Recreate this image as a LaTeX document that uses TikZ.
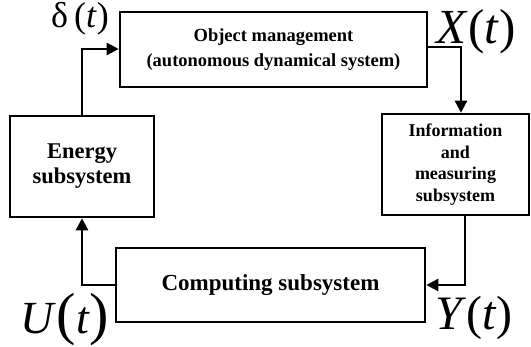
\documentclass[tikz,border=0pt]{standalone}
\usepackage{fontspec}
\setmainfont{Liberation Serif}
\usetikzlibrary{arrows.meta}
\tikzset{
  blockbox/.style={draw, line width=2.6pt, inner sep=0pt, align=center, font=\bfseries},
  flow/.style={line width=2.6pt, -{Triangle[length=12pt,width=12pt]}},
  siglabel/.style={inner sep=0pt}
}
\begin{document}
\begin{tikzpicture}[x=1pt,y=-1pt]
\useasboundingbox (0,0) rectangle (531,347);

% blocks
\node[blockbox, minimum width=307pt, minimum height=75pt,
      font=\bfseries\fontsize{18.5}{25}\selectfont] (obj) at (273.5,49.5)
  {Object management\\(autonomous dynamical system)};
\node[blockbox, minimum width=147pt, minimum height=101pt,
      font=\bfseries\fontsize{18}{21.5}\selectfont] (info) at (455.5,164.5)
  {Information\\and\\measuring\\subsystem};
\node[blockbox, minimum width=144pt, minimum height=101pt,
      font=\bfseries\fontsize{22.5}{25}\selectfont] (energy) at (82,166.5)
  {Energy\\subsystem};
\node[blockbox, minimum width=309pt, minimum height=74pt,
      font=\bfseries\fontsize{23}{26}\selectfont] (comp) at (270.5,285)
  {Computing subsystem};

% bend points of the loop
\coordinate (eUp) at (82,49);
\coordinate (xOut) at (461,47);
\coordinate (yDown) at (465,285);
\coordinate (uLeft) at (82,285);

% connectors
\draw[flow] (energy.north -| eUp) -- (eUp) -- (eUp -| obj.west);
\draw[flow] (xOut -| obj.east) -- (xOut) -- (xOut |- info.north);
\draw[flow] (yDown |- info.south) -- (yDown) -- (yDown -| comp.east);
\draw[flow] (comp.west |- uLeft) -- (uLeft) -- (uLeft |- energy.south);

% signal labels
\node[siglabel, font=\fontsize{36}{36}\selectfont] (delta) at (80,19)
  {δ\,(\textit{t})};
\node[siglabel, font=\fontsize{49}{49}\selectfont] (xt) at (476,32)
  {\textit{X}(\textit{t})};
\node[siglabel, font=\fontsize{46}{46}\selectfont] (ut) at (65,320)
  {\textit{U}{\fontsize{58}{58}\selectfont(}\textit{t}{\fontsize{58}{58}\selectfont)}};
\node[siglabel, font=\fontsize{48}{48}\selectfont] (yt) at (474,318)
  {\textit{Y}(\textit{t})};
\end{tikzpicture}
\end{document}
